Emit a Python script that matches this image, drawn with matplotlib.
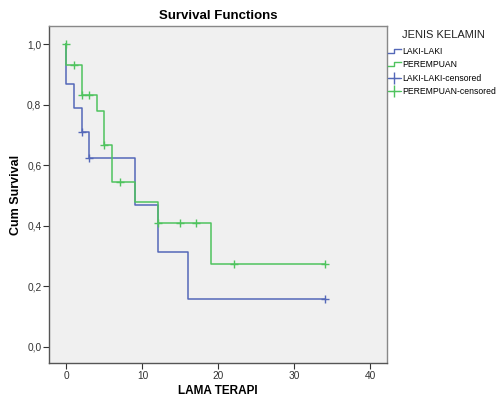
import numpy as np
import matplotlib
matplotlib.use("Agg")
import matplotlib.pyplot as plt
from matplotlib.lines import Line2D
from matplotlib.legend_handler import HandlerBase

plt.rcParams["font.family"] = ["Liberation Sans", "DejaVu Sans"]

# ==========================
# DATA
# ==========================
# LAKI-LAKI step curve
laki_t = [0, 0, 1, 2, 3, 9, 12, 16, 34]
laki_s = [1.0, 0.867, 0.790, 0.711, 0.623, 0.468, 0.312, 0.157, 0.157]
laki_cens_t = [2, 3, 34]
laki_cens_s = [0.711, 0.623, 0.157]

# PEREMPUAN step curve
per_t = [0, 0, 2, 4, 5, 6, 9, 12, 19, 34]
per_s = [1.0, 0.931, 0.833, 0.779, 0.666, 0.544, 0.477, 0.409, 0.272, 0.272]
per_cens_t = [0, 1, 2, 3, 5, 7, 12, 15, 17, 22, 34]
per_cens_s = [1.0, 0.931, 0.833, 0.833, 0.666, 0.544, 0.409, 0.409, 0.409, 0.272, 0.272]

x_ticks = [0, 10, 20, 30, 40]
y_ticks = [0.0, 0.2, 0.4, 0.6, 0.8, 1.0]
y_labels = ["0,0", "0,2", "0,4", "0,6", "0,8", "1,0"]

BLUE = "#5468b8"
GREEN = "#4fc35e"


class StepHandler(HandlerBase):
    def create_artists(self, legend, orig_handle, xdescent, ydescent,
                       width, height, fontsize, trans):
        w, h = width, height
        xs = [0, 0.5 * w, 0.5 * w, w]
        ys = [0.15 * h, 0.15 * h, 0.85 * h, 0.85 * h]
        ln = Line2D(xs, ys, color=orig_handle.get_color(), lw=1.0,
                    transform=trans)
        return [ln]


fig = plt.figure(figsize=(4.97, 3.98), dpi=100)
ax = fig.add_axes([0.0986, 0.0879, 0.680, 0.847])
ax.set_facecolor("#f0f0f0")

ax.step(laki_t, laki_s, where="post", color=BLUE, lw=1.1)
ax.step(per_t, per_s, where="post", color=GREEN, lw=1.1)
ax.plot(laki_cens_t, laki_cens_s, "+", color=BLUE, ms=6, mew=1.0)
ax.plot(per_cens_t, per_cens_s, "+", color=GREEN, ms=6, mew=1.0)

ax.set_xlim(-2.3, 42.2)
ax.set_ylim(-0.054, 1.06)
ax.set_xticks(x_ticks)
ax.set_yticks(y_ticks)
ax.set_yticklabels(y_labels)
ax.tick_params(direction="out", length=4, width=0.8, labelsize=7.3,
               colors="#333333", pad=1.5)

for name, sp in ax.spines.items():
    sp.set_color("#555555" if name in ("left", "bottom") else "#888888")
    sp.set_linewidth(1.0)

ax.set_title("Survival Functions", fontsize=9.5, fontweight="bold", pad=5)
ax.set_xlabel("LAMA TERAPI", fontsize=8.5, fontweight="bold", labelpad=3)
ax.set_ylabel("Cum Survival", fontsize=9, fontweight="bold", labelpad=4)

handles = [
    Line2D([], [], color=BLUE),
    Line2D([], [], color=GREEN),
    Line2D([], [], color=BLUE, marker="+", ms=8, lw=0.8),
    Line2D([], [], color=GREEN, marker="+", ms=8, lw=0.8),
]
labels = ["LAKI-LAKI", "PEREMPUAN", "LAKI-LAKI-censored", "PEREMPUAN-censored"]
fig.text(443 / 497, 1 - 35 / 398, "JENIS KELAMIN", fontsize=8,
         ha="center", va="center", color="#222222")
leg = fig.legend(handles, labels, loc="upper left",
                 bbox_to_anchor=(388 / 497, 1 - 47 / 398), frameon=False,
                 fontsize=6.2, handlelength=1.5, handletextpad=0.1,
                 labelspacing=0.5, borderaxespad=0.0, borderpad=0.0,
                 handler_map={handles[0]: StepHandler(),
                              handles[1]: StepHandler()})

fig.savefig("out.png", dpi=100)
